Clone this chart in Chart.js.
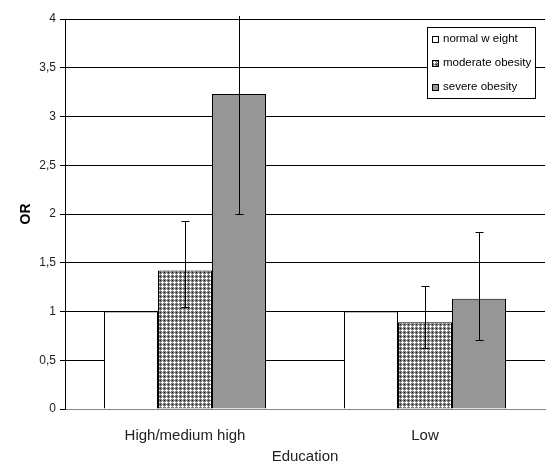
<!DOCTYPE html>
<html>
<head>
<meta charset="utf-8">
<script src="https://cdn.jsdelivr.net/npm/chart.js@4/dist/chart.umd.min.js"></script>
<style>
  html, body { margin: 0; padding: 0; background: #fff; }
  #wrap { width: 547px; height: 466px; }
</style>
</head>
<body>
<div id="wrap"><canvas id="orChart" width="547" height="466"></canvas></div>
<script>
// categories and values
const categories = ['High/medium high', 'Low'];
const seriesNames = ['normal w eight', 'moderate obesity', 'severe obesity'];
const normalWeight = [1, 1];
const moderateObesity = [1.42, 0.89];
const severeObesity = [3.23, 1.13];
// confidence intervals (normal weight is the reference, no bar)
const moderateLower = [1.05, 0.63];
const moderateUpper = [1.93, 1.26];
const severeLower = [2.0, 0.71];
const severeUpper = [5.2, 1.82];
const yTicks = [0, 0.5, 1, 1.5, 2, 2.5, 3, 3.5, 4];

const FONT = '"Liberation Sans", Arial, sans-serif';

// crosshatch fill for the moderate obesity bars
function makeHatch() {
    const c = document.createElement('canvas');
    c.width = 4;
    c.height = 4;
    const g = c.getContext('2d');
    g.fillStyle = '#7c7c7c';
    g.fillRect(0, 0, 4, 4);
    g.fillStyle = '#ffffff';
    [[2, 1], [1, 2], [2, 2], [3, 2], [2, 3]].forEach(p => g.fillRect(p[0], p[1], 1, 1));
    g.fillStyle = '#222222';
    g.fillRect(0, 0, 1, 1);
    return g.createPattern(c, 'repeat');
}

const errorBars = {
    id: 'errorBars',
    afterDatasetsDraw(chart) {
        const ctx = chart.ctx;
        const y = chart.scales.y;
        const area = chart.chartArea;
        ctx.save();
        ctx.beginPath();
        ctx.rect(area.left, area.top - 3, area.right - area.left, area.bottom - area.top + 3);
        ctx.clip();
        ctx.strokeStyle = '#000';
        ctx.lineWidth = 1;
        chart.data.datasets.forEach((ds, di) => {
            if (!ds.lower) return;
            chart.getDatasetMeta(di).data.forEach((bar, i) => {
                const x = Math.round(bar.x) + 0.5;
                const yl = Math.round(y.getPixelForValue(ds.lower[i])) + 0.5;
                const yu = Math.round(y.getPixelForValue(ds.upper[i])) + 0.5;
                ctx.beginPath();
                ctx.moveTo(x, yl);
                ctx.lineTo(x, yu);
                ctx.moveTo(x - 4, yl);
                ctx.lineTo(x + 4, yl);
                ctx.moveTo(x - 4, yu);
                ctx.lineTo(x + 4, yu);
                ctx.stroke();
            });
        });
        ctx.restore();
    }
};

// legend box drawn inside the plot, top right
const boxLegend = {
    id: 'boxLegend',
    afterDraw(chart) {
        const ctx = chart.ctx;
        const left = 427, top = 27, w = 108, h = 71;
        ctx.save();
        ctx.fillStyle = '#fff';
        ctx.fillRect(left, top, w, h);
        ctx.strokeStyle = '#000';
        ctx.lineWidth = 1;
        ctx.strokeRect(left + 0.5, top + 0.5, w, h);
        ctx.font = '11.5px ' + FONT;
        ctx.textBaseline = 'middle';
        chart.data.datasets.forEach((ds, i) => {
            const cy = top + 12 + i * 24;
            ctx.fillStyle = ds.backgroundColor;
            ctx.fillRect(left + 5, cy - 3, 7, 7);
            ctx.strokeStyle = '#000';
            ctx.strokeRect(left + 5.5, cy - 2.5, 6, 6);
            ctx.fillStyle = '#000';
            ctx.fillText(ds.label, left + 16, cy);
        });
        ctx.restore();
    }
};

const hatch = makeHatch();
const barStyle = { borderColor: '#000', borderWidth: 1, categoryPercentage: 0.675, barPercentage: 1 };

new Chart(document.getElementById('orChart'), {
    type: 'bar',
    data: {
        labels: categories,
        datasets: [
            Object.assign({ label: seriesNames[0], data: normalWeight, backgroundColor: '#ffffff' }, barStyle),
            Object.assign({ label: seriesNames[1], data: moderateObesity, backgroundColor: hatch,
                lower: moderateLower, upper: moderateUpper }, barStyle),
            Object.assign({ label: seriesNames[2], data: severeObesity, backgroundColor: '#969696',
                lower: severeLower, upper: severeUpper }, barStyle)
        ]
    },
    options: {
        responsive: false,
        animation: false,
        layout: { padding: { top: 19, right: 2, left: 14, bottom: 0 } },
        plugins: {
            legend: { display: false },
            tooltip: { enabled: false }
        },
        scales: {
            x: {
                grid: { display: false, drawTicks: false },
                border: { color: '#888', width: 1 },
                ticks: { color: '#222', font: { size: 15, family: FONT }, padding: 18 },
                title: { display: true, text: 'Education', color: '#222', padding: { top: 2, bottom: 0 },
                    font: { size: 15, family: FONT } },
                afterFit: s => { s.height = 57; }
            },
            y: {
                min: 0,
                max: 4,
                afterBuildTicks: s => { s.ticks = yTicks.map(v => ({ value: v })); },
                grid: { color: '#000', lineWidth: 1, tickLength: 5, tickColor: '#000' },
                border: { color: '#000', width: 1 },
                ticks: {
                    color: '#222',
                    padding: 4,
                    font: { size: 12, family: FONT },
                    callback: v => String(v).replace('.', ',')
                },
                title: { display: true, text: 'OR', color: '#000', padding: { top: 4, bottom: 4 },
                    font: { size: 14, weight: 'bold', family: FONT } },
                afterFit: s => { s.width = 51; }
            }
        }
    },
    plugins: [errorBars, boxLegend]
});
</script>
</body>
</html>
